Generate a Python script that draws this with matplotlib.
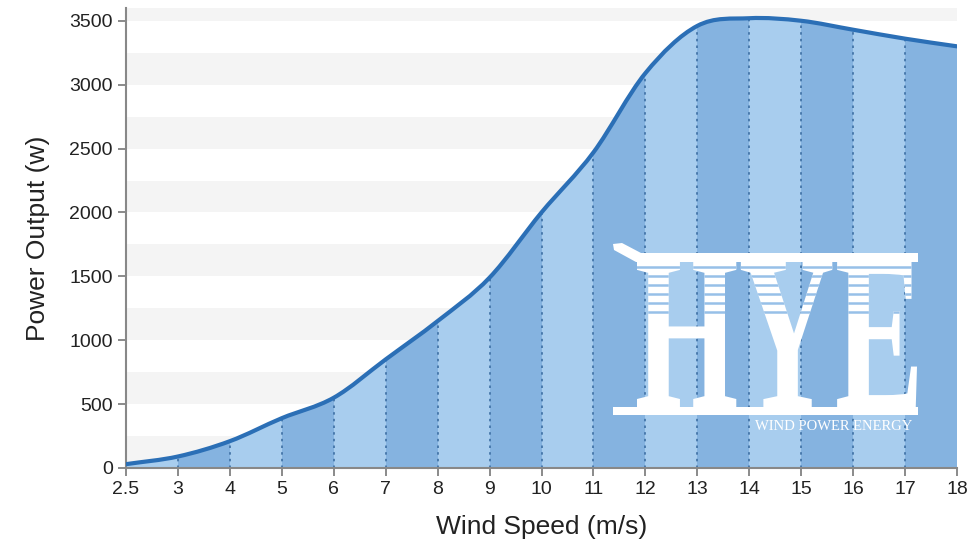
import numpy as np
import matplotlib.pyplot as plt
from matplotlib.path import Path
from matplotlib.patches import PathPatch, Polygon, Rectangle
from matplotlib.textpath import TextPath
from matplotlib.font_manager import FontProperties
from matplotlib.transforms import Affine2D, IdentityTransform
from matplotlib.lines import Line2D

plt.rcParams['font.family'] = ['Liberation Sans', 'DejaVu Sans']

# 풍속 (m/s) 과 출력 (w)
wind_speed = ['2.5', '3', '4', '5', '6', '7', '8', '9', '10', '11', '12',
              '13', '14', '15', '16', '17', '18']
power_out = [30, 90, 210, 390, 550, 850, 1150, 1490, 2000, 2470, 3090,
             3460, 3520, 3500, 3430, 3360, 3300]

dark_blue = '#85b3e0'
light_blue = '#a8cdee'
line_col = '#2b6fb6'

W, H = 968, 548


def smooth_path(x, y):
    # catmull-rom 곡선을 bezier 로 그리기
    x = np.asarray(x, float)
    y = np.asarray(y, float)
    m = np.zeros_like(y)
    m[0] = y[1] - y[0]
    m[-1] = y[-1] - y[-2]
    m[1:-1] = (y[2:] - y[:-2]) / 2
    verts = [(x[0], y[0])]
    codes = [Path.MOVETO]
    for i in range(len(x) - 1):
        h = x[i + 1] - x[i]
        verts += [(x[i] + h / 3, y[i] + m[i] / 3),
                  (x[i + 1] - h / 3, y[i + 1] - m[i + 1] / 3),
                  (x[i + 1], y[i + 1])]
        codes += [Path.CURVE4] * 3
    return verts, codes


def px(x, y):
    # 이미지 픽셀(좌상단 기준) -> display 좌표
    return (x, H - y)


xs = np.arange(len(wind_speed))
fig = plt.figure(figsize=(W / 100, H / 100), dpi=100)
ax = fig.add_axes([126 / W, 80 / H, 831 / W, 460 / H])
ax.set_xlim(0, len(wind_speed) - 1)
ax.set_ylim(0, 3600)

# 배경 줄무늬
for y0 in range(0, 3600, 500):
    ax.axhspan(y0, y0 + 250, color='#f4f4f4', lw=0, zorder=0)

verts, codes = smooth_path(xs, power_out)
line_path = Path(verts, codes)
area = Path(verts + [(xs[-1], 0), (xs[0], 0), (xs[0], power_out[0])],
            codes + [Path.LINETO, Path.LINETO, Path.CLOSEPOLY])
clip = PathPatch(area, transform=ax.transData, fc='none', ec='none')
ax.add_patch(clip)

# 구간별 색 칠하기
for i in range(len(xs) - 1):
    c = light_blue if i % 2 == 0 else dark_blue
    span = ax.axvspan(xs[i], xs[i + 1], color=c, lw=0, zorder=1)
    span.set_clip_path(clip)
for i in xs[1:-1]:
    vl = ax.axvline(i, color='#3d6fa3', lw=1.2, ls=(0, (1.5, 2.5)), zorder=2)
    vl.set_clip_path(clip)

ax.add_patch(PathPatch(line_path, fc='none', ec=line_col, lw=3, zorder=6,
                       capstyle='round'))

# 워터마크 로고
tp = TextPath((0, 0), 'HYE', size=100,
              prop=FontProperties(family='Liberation Serif', weight='bold'))
ext = tp.get_extents()
tr = (Affine2D().translate(-ext.x0, -ext.y0)
      .scale(280 / ext.width, 145 / ext.height)
      .translate(*px(637, 407)))
logo = PathPatch(tr.transform_path(tp), fc='white', ec='none',
                 transform=IdentityTransform(), zorder=3)
ax.add_patch(logo)
for yy in range(267, 320, 9):
    ln = Line2D([600, 930], [H - yy, H - yy], color='#97c0e8', lw=1.8,
                transform=IdentityTransform(), zorder=4)
    ln.set_clip_path(logo)
    ax.add_line(ln)
ax.add_patch(Polygon([px(613, 244), px(622, 243), px(641, 253), px(918, 253),
                      px(918, 262), px(636, 262), px(614, 250)],
                     closed=True, fc='white', ec='none',
                     transform=IdentityTransform(), zorder=3))
ax.add_patch(Rectangle(px(613, 415), 305, 8, fc='white', ec='none',
                       transform=IdentityTransform(), zorder=3))
fig.text(834 / W, 1 - 427 / H, 'WIND POWER ENERGY', color='white',
         fontsize=10.5, family='Liberation Serif', ha='center', va='center',
         zorder=5)

ax.set_xticks(xs)
ax.set_xticklabels(wind_speed)
ax.set_yticks(range(0, 3501, 500))
ax.tick_params(labelsize=14, length=6, width=1.2, color='#777777',
               labelcolor='#222222')
for s in ['top', 'right']:
    ax.spines[s].set_visible(False)
for s in ['left', 'bottom']:
    ax.spines[s].set_color('#888888')
    ax.spines[s].set_linewidth(1.5)

ax.set_xlabel('Wind Speed (m/s)', fontsize=19, labelpad=12, color='#222222')
ax.set_ylabel('Power Output (w)', fontsize=19, labelpad=14, color='#222222')

fig.savefig('out.png', dpi=100)
